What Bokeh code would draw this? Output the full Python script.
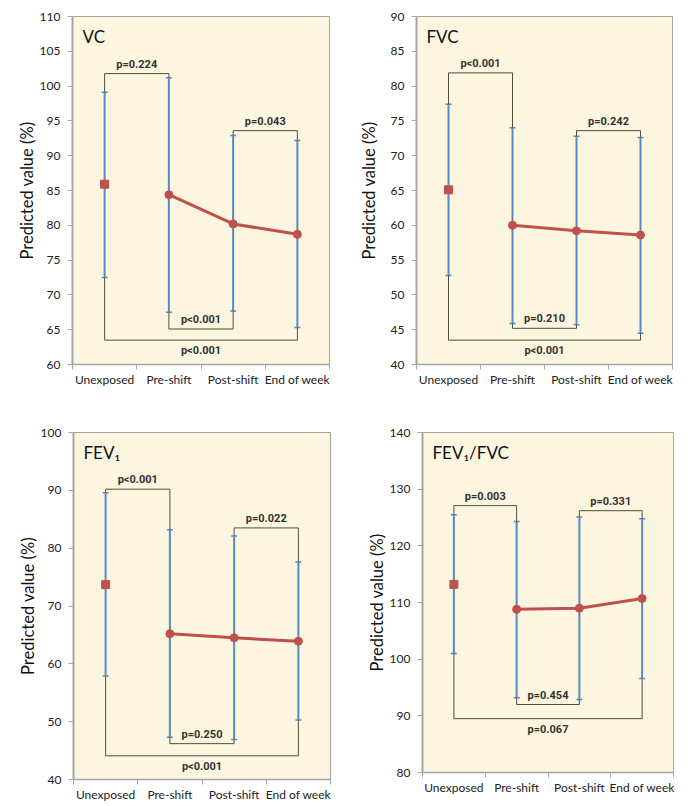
from bokeh.plotting import figure
from bokeh.layouts import column, row
from bokeh.models import (ColumnDataSource, Whisker, TeeHead, FixedTicker, Label, Range1d)
from bokeh.core.properties import value
from bokeh.embed import file_html
from bokeh.resources import INLINE

categories = ["Unexposed", "Pre-shift", "Post-shift", "End of week"]

vc_mean = [85.9, 84.4, 80.2, 78.7]
vc_upper = [99.1, 101.2, 92.9, 92.2]
vc_lower = [72.5, 67.5, 67.7, 65.3]

fvc_mean = [65.1, 60.0, 59.2, 58.6]
fvc_upper = [77.4, 74.0, 72.8, 72.6]
fvc_lower = [52.8, 45.9, 45.7, 44.5]

fev1_mean = [73.7, 65.2, 64.5, 63.9]
fev1_upper = [89.6, 83.2, 82.1, 77.6]
fev1_lower = [57.9, 47.3, 46.9, 50.3]

ratio_mean = [113.2, 108.8, 109.0, 110.7]
ratio_upper = [125.5, 124.3, 125.1, 124.8]
ratio_lower = [101.0, 93.2, 92.9, 96.6]

# brackets: (from category index, to category index, level, label, side)
vc_brackets = [(0, 1, 101.8, "p=0.224", "top"), (2, 3, 93.6, "p=0.043", "top"),
               (1, 2, 65.1, "p<0.001", "inner"), (0, 3, 63.5, "p<0.001", "bottom")]
fvc_brackets = [(0, 1, 81.9, "p<0.001", "top"), (2, 3, 73.6, "p=0.242", "top"),
                (1, 2, 45.2, "p=0.210", "inner"), (0, 3, 43.5, "p<0.001", "bottom")]
fev1_brackets = [(0, 1, 90.2, "p<0.001", "top"), (2, 3, 83.5, "p=0.022", "top"),
                 (1, 2, 46.2, "p=0.250", "inner"), (0, 3, 44.1, "p<0.001", "bottom")]
ratio_brackets = [(0, 1, 127.1, "p=0.003", "top"), (2, 3, 126.2, "p=0.331", "top"),
                  (1, 2, 92.0, "p=0.454", "inner"), (0, 3, 89.5, "p=0.067", "bottom")]

BG = "#FCF6E0"
ERR = "#5A8BBE"
RED = "#C0504D"
BRK = "#4F4F40"
AXC = "#A6A6A6"
FONT = "Lato"
PFONT = "Roboto"


def make_panel(title, means, uppers, lowers, brackets, ymin, ymax, ystep,
               fw, fh, bl, br, bt, bb, label_standoff):
    p = figure(output_backend="svg", toolbar_location=None,
               frame_width=fw, frame_height=fh,
               min_border_left=bl, min_border_right=br,
               min_border_top=bt, min_border_bottom=bb,
               x_range=Range1d(0, 4), y_range=Range1d(ymin, ymax),
               background_fill_color=BG, border_fill_color="white")
    p.grid.visible = False
    p.outline_line_color = AXC
    p.outline_line_width = 1

    xs = [i + 0.5 for i in range(len(categories))]
    src = ColumnDataSource(dict(x=xs, m=means, up=uppers, lo=lowers))

    # brackets (drawn under error bars)
    for (a, b, lvl, lab, side) in brackets:
        xa, xb = xs[a], xs[b]
        if side == "top":
            ya, yb = uppers[a], uppers[b]
        else:
            ya, yb = lowers[a], lowers[b]
        p.line([xa, xa, xb, xb], [ya, lvl, lvl, yb], line_color=BRK, line_width=1)
        if side == "bottom":
            p.text([(xa + xb) / 2], [lvl], text=[lab], text_align="center",
                   text_baseline="top", y_offset=4,
                   text_font=value(PFONT), text_font_style="bold",
                   text_font_size="11px", text_color="#333333")
        else:
            p.text([(xa + xb) / 2], [lvl], text=[lab], text_align="center",
                   text_baseline="bottom", y_offset=-3,
                   text_font=value(PFONT), text_font_style="bold",
                   text_font_size="11px", text_color="#333333")

    w = Whisker(source=src, base="x", upper="up", lower="lo", line_color=ERR,
                line_width=2,
                upper_head=TeeHead(size=6, line_color=ERR, line_width=1.5),
                lower_head=TeeHead(size=6, line_color=ERR, line_width=1.5))
    p.add_layout(w)

    p.line(xs[1:], means[1:], line_color=RED, line_width=3)
    p.scatter(xs[1:], means[1:], marker="circle", size=8, fill_color=RED, line_color=RED)
    p.scatter(xs[:1], means[:1], marker="square", size=8, fill_color=RED, line_color=RED)

    p.add_layout(Label(x=10, y=fh - 20, x_units="screen", y_units="screen",
                       text=title, text_font=FONT, text_font_size="17px",
                       text_baseline="middle", text_color="#111111"))

    # axes
    p.xaxis.ticker = FixedTicker(ticks=xs, minor_ticks=[0, 1, 2, 3, 4])
    p.xaxis.major_label_overrides = {x: c for x, c in zip(xs, categories)}
    p.xaxis.major_tick_in = 0
    p.xaxis.major_tick_out = 0
    p.xaxis.minor_tick_in = 0
    p.xaxis.minor_tick_out = 5
    p.xaxis.minor_tick_line_color = AXC
    p.xaxis.axis_line_color = AXC
    p.xaxis.axis_line_width = 1.5
    p.xaxis.major_label_text_font = FONT
    p.xaxis.major_label_text_font_size = "12px"
    p.xaxis.major_label_text_color = "#222222"
    p.xaxis.major_label_standoff = 2

    p.yaxis.ticker = FixedTicker(ticks=list(range(ymin, ymax + 1, ystep)), minor_ticks=[])
    p.yaxis.major_tick_in = 0
    p.yaxis.major_tick_out = 5
    p.yaxis.major_tick_line_color = AXC
    p.yaxis.axis_line_color = AXC
    p.yaxis.axis_line_width = 2
    p.yaxis.major_label_text_font = FONT
    p.yaxis.major_label_text_font_size = "12px"
    p.yaxis.major_label_text_color = "#222222"
    p.yaxis.major_label_standoff = 7
    p.yaxis.axis_label = "Predicted value (%)"
    p.yaxis.axis_label_text_font = FONT
    p.yaxis.axis_label_text_font_size = "16.5px"
    p.yaxis.axis_label_text_font_style = "normal"
    p.yaxis.axis_label_text_color = "#111111"
    p.yaxis.axis_label_standoff = label_standoff
    return p


p1 = make_panel("VC", vc_mean, vc_upper, vc_lower, vc_brackets, 60, 110, 5,
                257, 348, 72, 15, 16, 46, 0)
p2 = make_panel("FVC", fvc_mean, fvc_upper, fvc_lower, fvc_brackets, 40, 90, 5,
                256, 348, 72, 16, 14, 48, 9)
p3 = make_panel("FEV\u2081", fev1_mean, fev1_upper, fev1_lower, fev1_brackets, 40, 100, 10,
                257, 347, 73, 14, 22, 27, 0)
p4 = make_panel("FEV\u2081/FVC", ratio_mean, ratio_upper, ratio_lower, ratio_brackets, 80, 140, 10,
                251, 340, 78, 15, 17, 39, 0)

layout = column(row(p1, p2), row(p3, p4))

open("out.html", "w").write(file_html(layout, INLINE))
